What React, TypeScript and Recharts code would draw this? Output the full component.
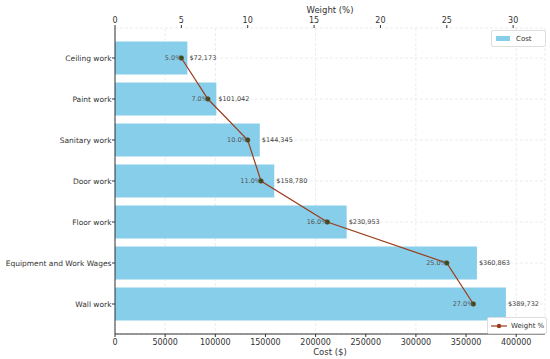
import {
  Bar,
  CartesianGrid,
  ComposedChart,
  LabelList,
  Line,
  XAxis,
  YAxis,
} from "recharts";

const categories = [
  "Ceiling work",
  "Paint work",
  "Sanitary work",
  "Door work",
  "Floor work",
  "Equipment and Work Wages",
  "Wall work",
];
const costs = [72173, 101042, 144345, 158780, 230953, 360863, 389732];
const weights = [5, 7, 10, 11, 16, 25, 27];
const costTicks = [0, 50000, 100000, 150000, 200000, 250000, 300000, 350000, 400000];
const weightTicks = [0, 5, 10, 15, 20, 25, 30];

const data = categories.map((name, i) => ({
  name,
  cost: costs[i],
  weight: weights[i],
}));

const font = "DejaVu Sans, sans-serif";
const tickStyle = { fontSize: 8, fill: "#333", fontFamily: font };

// plain tick so long names stay on one line
const CategoryTick = (props: any) => {
  const { x, y, payload } = props;
  return (
    <text
      x={x}
      y={y}
      dx={1.5}
      dy={3}
      textAnchor='end'
      fontSize={7.5}
      fill='#333'
      fontFamily={font}
    >
      {payload.value}
    </text>
  );
};

export default function App() {
  return (
    <div
      style={{
        position: "absolute",
        left: 0,
        top: 0,
        width: 550,
        height: 359,
        background: "#fff",
        fontFamily: font,
      }}
    >
      <ComposedChart
        width={550}
        height={359}
        data={data}
        layout='vertical'
        margin={{ top: 0, right: 5, bottom: 0, left: 0 }}
      >
        <CartesianGrid
          xAxisId='cost'
          stroke='#ececec'
          strokeDasharray='3 2'
        />
        <XAxis
          xAxisId='cost'
          type='number'
          orientation='bottom'
          domain={[0, 428705]}
          ticks={costTicks}
          height={25}
          tick={tickStyle}
          tickSize={3}
          stroke='#333'
          allowDataOverflow
          label={{
            value: "Cost ($)",
            position: "insideBottom",
            offset: 4,
            style: { fontSize: 8.5, fill: "#333", fontFamily: font },
          }}
        />
        <XAxis
          xAxisId='w'
          type='number'
          orientation='top'
          domain={[0, 32.4]}
          ticks={weightTicks}
          height={28}
          axisLine={false}
          tick={tickStyle}
          tickSize={3}
          stroke='#333'
          allowDataOverflow
          label={{
            value: "Weight (%)",
            position: "insideTop",
            offset: 7,
            style: { fontSize: 8.5, fill: "#333", fontFamily: font },
          }}
        />
        <YAxis
          type='category'
          dataKey='name'
          width={115}
          padding={{ top: 9.5, bottom: 9.5 }}
          tick={<CategoryTick />}
          tickSize={3}
          stroke='#333'
        />
        <Bar
          xAxisId='cost'
          dataKey='cost'
          fill='#87ceeb'
          barSize={33}
          isAnimationActive={false}
        >
          <LabelList
            dataKey='cost'
            position='right'
            offset={2}
            formatter={(v: number) => `$${Number(v).toLocaleString("en-US")}`}
            style={{ fontSize: 6.5, fill: "#444", fontFamily: font }}
          />
        </Bar>
        <Line
          xAxisId='w'
          dataKey='weight'
          stroke='#9b3b1b'
          strokeWidth={1.2}
          dot={{ r: 2.3, fill: "#2f4f1f", stroke: "#7a3a1a", strokeWidth: 0.6 }}
          isAnimationActive={false}
        >
          <LabelList
            dataKey='weight'
            position='left'
            offset={0}
            formatter={(v: number) => `${Number(v).toFixed(1)}%`}
            style={{ fontSize: 6.5, fill: "#555", fontFamily: font }}
          />
        </Line>
      </ComposedChart>

      <div
        style={{
          position: "absolute",
          left: 491,
          top: 30,
          width: 53,
          height: 15,
          border: "1px solid #ddd",
          borderRadius: 2,
          background: "#fff",
          display: "flex",
          alignItems: "center",
          fontSize: 7,
          color: "#333",
          whiteSpace: "nowrap",
        }}
      >
        <span
          style={{
            display: "inline-block",
            width: 14,
            height: 5,
            background: "#87ceeb",
            marginLeft: 4,
            marginRight: 6,
          }}
        />
        Cost
      </div>

      <div
        style={{
          position: "absolute",
          left: 487,
          top: 317,
          width: 58,
          height: 15,
          border: "1px solid #ddd",
          borderRadius: 2,
          background: "#fff",
          display: "flex",
          alignItems: "center",
          fontSize: 7,
          color: "#333",
          whiteSpace: "nowrap",
        }}
      >
        <svg width={16} height={8} style={{ marginLeft: 3, marginRight: 4 }}>
          <line x1={0} y1={4} x2={16} y2={4} stroke='#9b3b1b' strokeWidth={1.2} />
          <circle cx={8} cy={4} r={2.2} fill='#9b3b1b' />
        </svg>
        Weight %
      </div>
    </div>
  );
}
